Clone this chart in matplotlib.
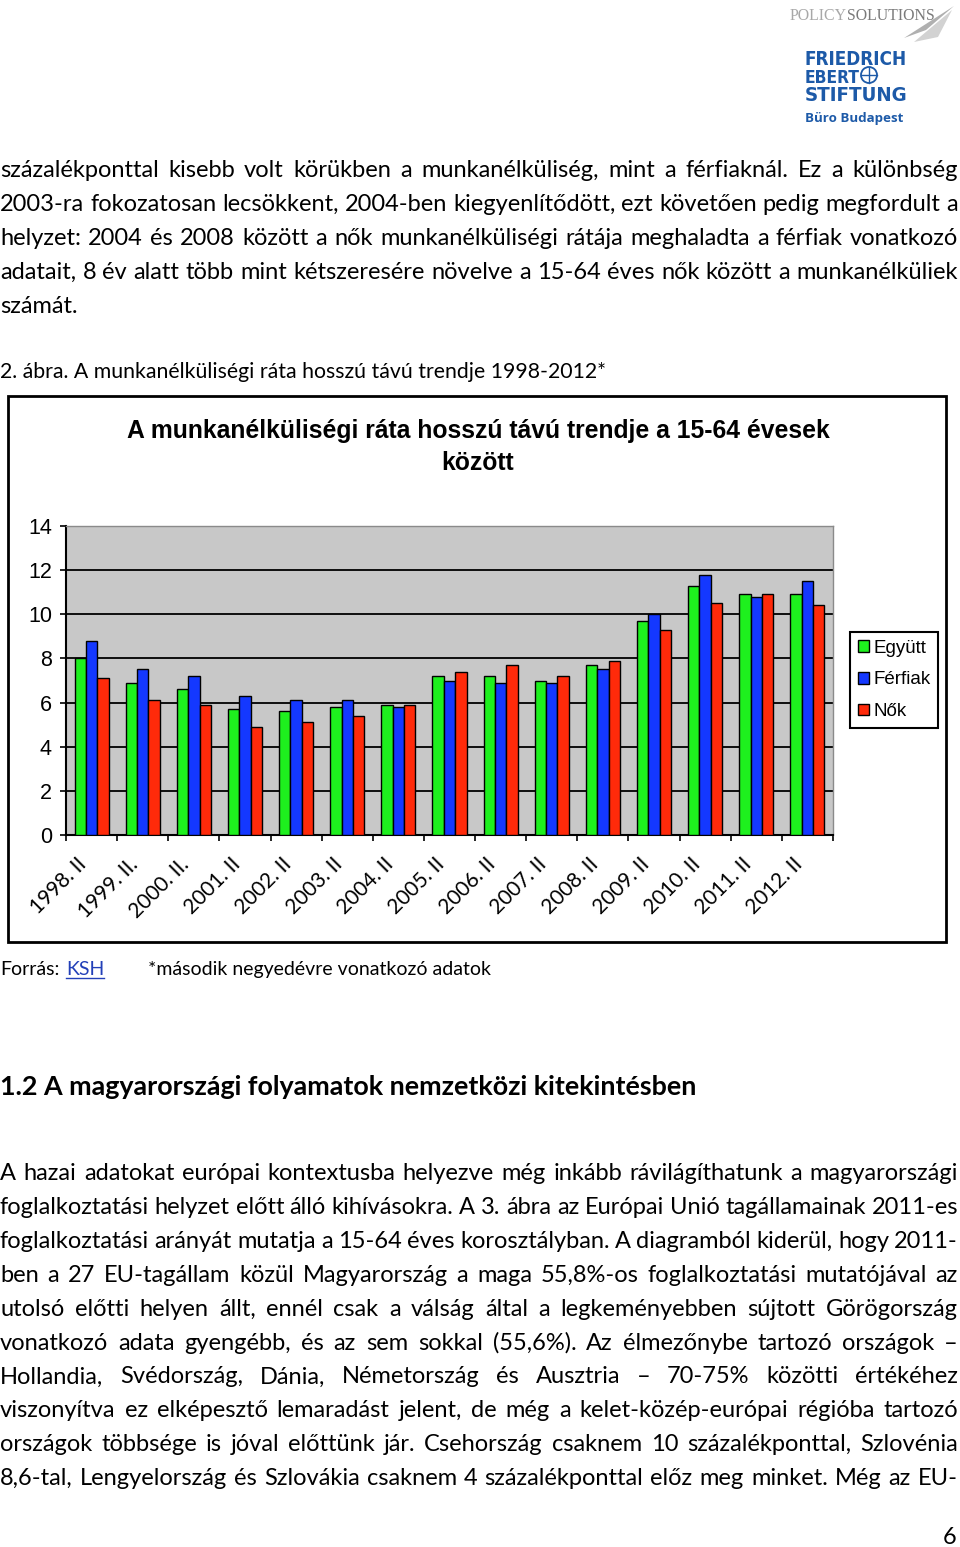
import numpy as np
import matplotlib
matplotlib.use('Agg')
import matplotlib.pyplot as plt
from matplotlib.font_manager import FontProperties
from matplotlib.patches import Rectangle, Circle, Polygon
from matplotlib.lines import Line2D
import matplotlib.transforms as mtransforms

# --- adatok: munkanélküliségi ráta (%), második negyedév ---
evek = ['1998. II', '1999. II.', '2000. II.', '2001. II', '2002. II', '2003. II', '2004. II',
        '2005. II', '2006. II', '2007. II', '2008. II', '2009. II', '2010. II', '2011. II', '2012. II']
egyutt = [8.0, 6.9, 6.6, 5.7, 5.6, 5.8, 5.9, 7.2, 7.2, 7.0, 7.7, 9.7, 11.3, 10.9, 10.9]
ferfiak = [8.8, 7.5, 7.2, 6.3, 6.1, 6.1, 5.8, 7.0, 6.9, 6.9, 7.5, 10.0, 11.8, 10.8, 11.5]
nok = [7.1, 6.1, 5.9, 4.9, 5.1, 5.4, 5.9, 7.4, 7.7, 7.2, 7.9, 9.3, 10.5, 10.9, 10.4]
sorozat_nevek = ['Együtt', 'Férfiak', 'Nők']
y_ticks = [0, 2, 4, 6, 8, 10, 12, 14]

cim = ['A munkanélküliségi ráta hosszú távú trendje a 15-64 évesek', 'között']
abra_felirat = '2. ábra. A munkanélküliségi ráta hosszú távú trendje 1998-2012*'
fejezet = '1.2 A magyarországi folyamatok nemzetközi kitekintésben'
labjegyzet = '*második negyedévre vonatkozó adatok'

bekezdes1 = [
    'százalékponttal kisebb volt körükben a munkanélküliség, mint a férfiaknál. Ez a különbség',
    '2003-ra fokozatosan lecsökkent, 2004-ben kiegyenlítődött, ezt követően pedig megfordult a',
    'helyzet: 2004 és 2008 között a nők munkanélküliségi rátája meghaladta a férfiak vonatkozó',
    'adatait, 8 év alatt több mint kétszeresére növelve a 15-64 éves nők között a munkanélküliek',
    'számát.',
]
bekezdes2 = [
    'A hazai adatokat európai kontextusba helyezve még inkább rávilágíthatunk a magyarországi',
    'foglalkoztatási helyzet előtt álló kihívásokra. A 3. ábra az Európai Unió tagállamainak 2011-es',
    'foglalkoztatási arányát mutatja a 15-64 éves korosztályban. A diagramból kiderül, hogy 2011-',
    'ben a 27 EU-tagállam közül Magyarország a maga 55,8%-os foglalkoztatási mutatójával az',
    'utolsó előtti helyen állt, ennél csak a válság által a legkeményebben sújtott Görögország',
    'vonatkozó adata gyengébb, és az sem sokkal (55,6%). Az élmezőnybe tartozó országok –',
    'Hollandia, Svédország, Dánia, Németország és Ausztria – 70-75% közötti értékéhez',
    'viszonyítva ez elképesztő lemaradást jelent, de még a kelet-közép-európai régióba tartozó',
    'országok többsége is jóval előttünk jár. Csehország csaknem 10 százalékponttal, Szlovénia',
    '8,6-tal, Lengyelország és Szlovákia csaknem 4 százalékponttal előz meg minket. Még az EU-',
]

W, H = 960, 1547
BODY = 'Lato'
CHART = 'Liberation Sans'
ZOLD, KEK, PIROS = '#1ef01e', '#1438ff', '#ff2a0a'
FES_KEK = '#1d5aa8'

fig = plt.figure(figsize=(W / 100, H / 100), dpi=100)
page = fig.add_axes([0, 0, 1, 1])
page.set_xlim(0, W)
page.set_ylim(H, 0)
page.axis('off')
renderer = fig.canvas.get_renderer()


def szelesseg(s, size, weight='normal', family=BODY, stretch='normal'):
    prop = FontProperties(family=family, size=size, weight=weight, stretch=stretch)
    return renderer.get_text_width_height_descent(s, prop, ismath=False)[0]


def illesztett(s, cel, weight='normal', family=BODY, stretch='normal'):
    # betűméret, amelynél a szöveg szélessége épp a cél pixel
    return 12 * cel / szelesseg(s, 12, weight, family, stretch)


# betűméret: a legnagyobb, amelynél minden sorkizárt sor kifér
sorkizart = bekezdes1[:4] + bekezdes2
body_size = 17.0
while body_size > 12:
    em = body_size * 100 / 72
    ok = True
    for sor in sorkizart:
        szavak = sor.split(' ')
        kell = sum(szelesseg(w, body_size) for w in szavak) + (len(szavak) - 1) * 0.2 * em
        if kell > 958:
            ok = False
            break
    if ok:
        break
    body_size -= 0.25


def sor_irasa(sor, y, justify=True, x0=0, x1=958):
    szavak = sor.split(' ')
    ws = [szelesseg(w, body_size) for w in szavak]
    if justify and len(szavak) > 1:
        gap = (x1 - x0 - sum(ws)) / (len(szavak) - 1)
    else:
        gap = szelesseg('a b', body_size) - szelesseg('ab', body_size)
    x = x0
    for w, wd in zip(szavak, ws):
        page.text(x, y, w, fontsize=body_size, family=BODY, va='baseline', ha='left', color='black')
        x += wd + gap


for i, sor in enumerate(bekezdes1):
    sor_irasa(sor, 177 + 33.9 * i, justify=(i < 4))
for i, sor in enumerate(bekezdes2):
    sor_irasa(sor, 1180 + 33.9 * i)

# ábra felirat, fejezetcím, forrás
page.text(0, 378, abra_felirat, fontsize=illesztett(abra_felirat, 604), family=BODY, va='baseline')
page.text(0, 1095, fejezet, fontsize=illesztett(fejezet, 693, 'bold'), family=BODY, weight='bold',
          va='baseline')

fs_lab = illesztett(labjegyzet, 342)
page.text(0, 975, 'Forrás:', fontsize=fs_lab, family=BODY, va='baseline')
page.text(66, 975, 'KSH', fontsize=fs_lab, family=BODY, va='baseline', color='#2340b8')
page.add_line(Line2D([66, 66 + szelesseg('KSH', fs_lab)], [978, 978], color='#2340b8', lw=1))
page.text(148, 975, labjegyzet, fontsize=fs_lab, family=BODY, va='baseline')
page.text(956, 1544, '6', fontsize=body_size, family=BODY, va='baseline', ha='right')

# fejléc logók
fs_pol = illesztett('POLICYSOLUTIONS', 145, family='Liberation Serif')
page.text(790, 20, 'POLICY', fontsize=fs_pol, family='Liberation Serif', color='#a8a8a8', va='baseline')
page.text(790 + szelesseg('POLICY', fs_pol, family='Liberation Serif'), 20, 'SOLUTIONS', fontsize=fs_pol,
          family='Liberation Serif', color='#7a7a7a', va='baseline')
page.add_patch(Polygon([[904, 38], [954, 6], [926, 30]], closed=True, color='#b0b0b0', lw=0))
page.add_patch(Polygon([[914, 42], [952, 10], [938, 37]], closed=True, color='#d2d2d2', lw=0))

fes = [('FRIEDRICH', 65, 103), ('EBERT', 83, 55), ('STIFTUNG', 101, 103)]
for szo, yb, cel in fes:
    fs = illesztett(szo, cel, 'heavy', 'DejaVu Sans', 'condensed')
    page.text(805, yb, szo, fontsize=fs, family='DejaVu Sans', weight='heavy', stretch='condensed',
              color=FES_KEK, va='baseline')
page.add_patch(Circle((869, 75), 8, fill=False, ec=FES_KEK, lw=1.3))
page.add_line(Line2D([861, 877], [75, 75], color=FES_KEK, lw=1))
page.add_line(Line2D([869, 869], [67, 83], color=FES_KEK, lw=1))
page.text(805, 122, 'Büro Budapest', fontsize=illesztett('Büro Budapest', 98, 'bold', 'Open Sans'),
          family='Open Sans', weight='bold', color=FES_KEK, va='baseline')

# diagram keret és cím
page.add_patch(Rectangle((8, 396), 938, 546, fill=False, ec='black', lw=2))
fs_cim = illesztett(cim[0], 698, 'bold', CHART)
page.text(478, 438, cim[0], fontsize=fs_cim, family=CHART, weight='bold', ha='center', va='baseline')
page.text(478, 470, cim[1], fontsize=fs_cim, family=CHART, weight='bold', ha='center', va='baseline')

# oszlopdiagram
ax = fig.add_axes([66 / W, 1 - 835 / H, 767 / W, 309 / H])
x = np.arange(len(evek))
bw = 1 / 4.5
for k, (vals, col, nev) in enumerate(zip([egyutt, ferfiak, nok], [ZOLD, KEK, PIROS], sorozat_nevek)):
    ax.bar(x + (k - 1) * bw, vals, bw, color=col, edgecolor='black', linewidth=1, label=nev, zorder=3)

ax.set_xlim(-0.5, len(evek) - 0.5)
ax.set_ylim(0, 14)
ax.set_facecolor('#c8c8c8')
ax.set_yticks(y_ticks)
ax.set_yticklabels([str(v) for v in y_ticks], family=CHART)
ax.yaxis.grid(True, color='black', lw=1.3)
ax.get_ygridlines()[-1].set_visible(False)
ax.set_axisbelow(True)
ax.tick_params(axis='y', length=4.3, width=1.2, pad=5.8, labelsize=15.5)

ax.set_xticks(np.arange(-0.5, len(evek), 1))
ax.set_xticklabels([])
ax.tick_params(axis='x', which='major', length=4.3, width=1.2)
ax.set_xticks(x, minor=True)
ax.set_xticklabels(evek, minor=True, rotation=45, ha='right', va='center', rotation_mode='anchor',
                   family=BODY, fontsize=15)
ax.tick_params(axis='x', which='minor', length=0, pad=19)
eltol = mtransforms.ScaledTranslation(-8 / 100, 0, fig.dpi_scale_trans)
for lab in ax.get_xticklabels(minor=True):
    lab.set_transform(lab.get_transform() + eltol)

for s in ['left', 'bottom']:
    ax.spines[s].set_linewidth(1.5)
    ax.spines[s].set_color('black')
for s in ['top', 'right']:
    ax.spines[s].set_linewidth(1)
    ax.spines[s].set_color('#8a8a8a')

leg = ax.legend(loc='center left', bbox_to_anchor=(850 / W, 1 - 680 / H), bbox_transform=fig.transFigure,
                frameon=True, fancybox=False, edgecolor='black', framealpha=1,
                prop=FontProperties(family=CHART, size=13.5), handlelength=0.6, handleheight=0.6,
                handletextpad=0.25, labelspacing=0.78, borderpad=0.4, borderaxespad=0)
leg.get_frame().set_linewidth(1.5)

fig.savefig('out.png', dpi=100, facecolor='white')
